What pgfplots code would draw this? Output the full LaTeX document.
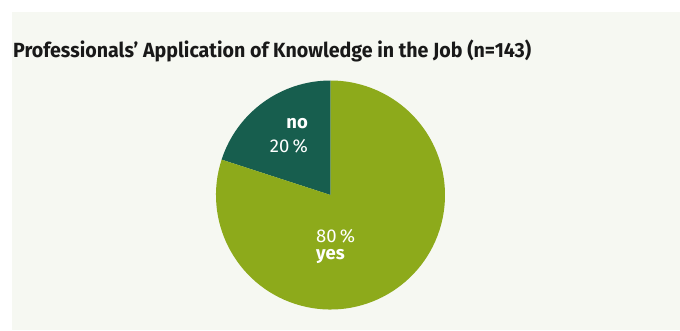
\documentclass[border=0pt]{standalone}
\usepackage{pgfplots}
\pgfplotsset{compat=1.18}
\usepackage{pgfplotstable}
\usepackage{graphicx}
\usepackage{fontspec}
\setmainfont{Fira Sans}
\definecolor{bgc}{HTML}{F6F8F2}
\definecolor{lightg}{HTML}{8DAA1B}
\definecolor{darkg}{HTML}{175E4E}
\pgfplotstableread{
label value
yes 80
no 20
}\piedata
\begin{document}
\begin{tikzpicture}[x=1bp,y=1bp]
\useasboundingbox (0,0) rectangle (680,330);
\fill[bgc] (12,0) rectangle (680,318);
\node[anchor=base west,inner sep=0pt,text=black!90] at (13,273)
  {\resizebox{518bp}{\height}{\fontsize{20.5bp}{22bp}\selectfont\bfseries Professionals’ Application of Knowledge in the Job (n=143)}};
\begin{axis}[
  x=1bp,y=1bp,
  xmin=-114.5,xmax=114.5,ymin=-114.5,ymax=114.5,
  hide axis,
  at={(330.5,135)},anchor=center,
  clip=false,
]
\pgfplotstablegetelem{0}{value}\of\piedata
\pgfmathsetmacro\vyes{\pgfplotsretval}
\pgfplotstablegetelem{1}{value}\of\piedata
\pgfmathsetmacro\vno{\pgfplotsretval}
\pgfmathsetmacro\aend{90+3.6*\vno}
\pgfmathsetmacro\bend{\aend+3.6*\vyes}
\fill[darkg] (axis cs:0,0) -- (axis cs:0,114.5) arc[start angle=90,end angle=\aend,radius=114.5] -- cycle;
\fill[lightg] (axis cs:0,0) -- ({114.5*cos(\aend)},{114.5*sin(\aend)}) arc[start angle=\aend,end angle=\bend,radius=114.5] -- cycle;
\end{axis}
\node[anchor=base east,inner sep=0pt,text=white,font=\fontsize{18.5bp}{20bp}\selectfont\bfseries] at (308,202) {no};
\node[anchor=base east,inner sep=0pt,text=white,font=\fontsize{18.5bp}{20bp}\selectfont] at (308,178) {20\,\%};
\node[anchor=base west,inner sep=0pt,text=white,font=\fontsize{18.5bp}{20bp}\selectfont] at (316,88) {80\,\%};
\node[anchor=base west,inner sep=0pt,text=white,font=\fontsize{18.5bp}{20bp}\selectfont\bfseries] at (316,71) {yes};
\end{tikzpicture}
\end{document}
